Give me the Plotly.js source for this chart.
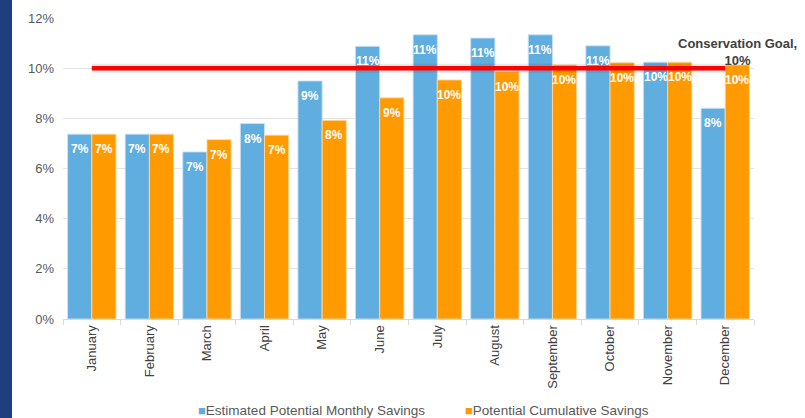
<!DOCTYPE html>
<html>
<head>
<meta charset="utf-8">
<script src="https://cdn.plot.ly/plotly-3.0.1.min.js"></script>
<style>
  html, body { margin: 0; padding: 0; background: #ffffff; }
  #wrap { position: relative; width: 805px; height: 418px; overflow: hidden; }
  #strip { position: absolute; left: 0; top: 0; width: 12px; height: 418px; background: #1e3f7e; z-index: 5; }
  #chart { position: absolute; left: 0; top: 0; width: 805px; height: 418px; }
</style>
</head>
<body>
<div id="wrap">
  <div id="chart"></div>
  <div id="strip"></div>
</div>
<script>
// ---- data ----
const months = ["January", "February", "March", "April", "May", "June", "July",
                "August", "September", "October", "November", "December"];
const monthlySavings = [7.37, 7.37, 6.66, 7.79, 9.49, 10.87, 11.33, 11.20, 11.33, 10.89, 10.24, 8.40];
const cumulativeSavings = [7.37, 7.37, 7.15, 7.33, 7.92, 8.82, 9.53, 9.86, 10.13, 10.22, 10.24, 10.13];
const goalValue = 10;
const goalLabel = "Conservation Goal,<br>10%";
const seriesNames = ["Estimated Potential Monthly Savings", "Potential Cumulative Savings"];
const yTickValues = [0, 2, 4, 6, 8, 10, 12];
const yTickLabels = ["0%", "2%", "4%", "6%", "8%", "10%", "12%"];

// ---- style ----
const FONT = "Liberation Sans, Arial, sans-serif";
const BLUE = "#60ade0";
const ORANGE = "#ff9a00";

const barCommon = {
  type: "bar",
  x: months,
  showlegend: false,
  hoverinfo: "x+y"
};

const traces = [
  Object.assign({}, barCommon, {
    name: seriesNames[0], y: monthlySavings,
    marker: { color: BLUE, line: { color: "rgba(200,225,245,0.9)", width: 1 } }
  }),
  Object.assign({}, barCommon, {
    name: seriesNames[1], y: cumulativeSavings,
    marker: { color: ORANGE, line: { color: "rgba(255,215,160,0.9)", width: 1 } }
  }),
  {
    type: "scatter", mode: "lines", x: months, y: months.map(() => goalValue),
    line: { color: "rgba(0,0,0,0.08)", width: 9 }, showlegend: false, hoverinfo: "skip"
  },
  {
    type: "scatter", mode: "lines", x: months, y: months.map(() => goalValue),
    line: { color: "#ff0000", width: 4.5 }, showlegend: false, name: "Conservation Goal"
  }
];

const annotations = [];
function addLabels(values, shift) {
  values.forEach((v, i) => {
    annotations.push({
      x: months[i], y: v, xref: "x", yref: "y",
      xshift: shift, yshift: -15,
      text: Math.round(v) + "%",
      showarrow: false,
      font: { family: FONT, size: 12, color: "#ffffff", weight: "bold" }
    });
  });
}
addLabels(monthlySavings, -12);
addLabels(cumulativeSavings, 12);

annotations.push({
  x: months[months.length - 1], y: goalValue, xref: "x", yref: "y",
  xshift: 12, yshift: 16,
  text: goalLabel, showarrow: false, align: "center",
  font: { family: FONT, size: 13, color: "#404040", weight: "bold" }
});

// legend drawn as text entries (colored square glyph + series name)
const legendX = [0.1925, 0.5789];
const legendColors = [BLUE, ORANGE];
seriesNames.forEach((name, i) => {
  annotations.push({
    xref: "paper", yref: "paper", x: legendX[i], y: -0.304,
    xanchor: "left", yanchor: "middle", showarrow: false,
    text: '<span style="color:' + legendColors[i] + ';font-size:13px">■</span>' + name,
    font: { family: FONT, size: 13.5, color: "#595959" }
  });
});

const layout = {
  width: 805, height: 418,
  margin: { l: 63, r: 51, t: 18, b: 99, autoexpand: false },
  paper_bgcolor: "#ffffff", plot_bgcolor: "#ffffff",
  font: { family: FONT, size: 13, color: "#595959" },
  barmode: "group",
  bargap: 0.16,
  bargroupgap: 0,
  showlegend: false,
  xaxis: {
    type: "category",
    range: [-0.5, months.length - 0.5],
    autorange: false,
    automargin: false,
    tickangle: -90,
    tickfont: { family: FONT, size: 13, color: "#404040" },
    showline: true, linecolor: "#d9d9d9", linewidth: 1,
    ticks: "outside", tickson: "boundaries", ticklen: 5, tickcolor: "#d9d9d9",
    showgrid: false, fixedrange: true
  },
  yaxis: {
    automargin: false,
    range: [0, 12],
    autorange: false,
    tickvals: yTickValues, ticktext: yTickLabels,
    tickfont: { family: FONT, size: 13, color: "#595959" },
    showgrid: true, gridcolor: "#e3e3e3", gridwidth: 1,
    zeroline: false, showline: false, ticks: "",
    ticklabelstandoff: 8, fixedrange: true
  },
  annotations: annotations
};

Plotly.newPlot("chart", traces, layout, { displayModeBar: false, staticPlot: true });
</script>
</body>
</html>
